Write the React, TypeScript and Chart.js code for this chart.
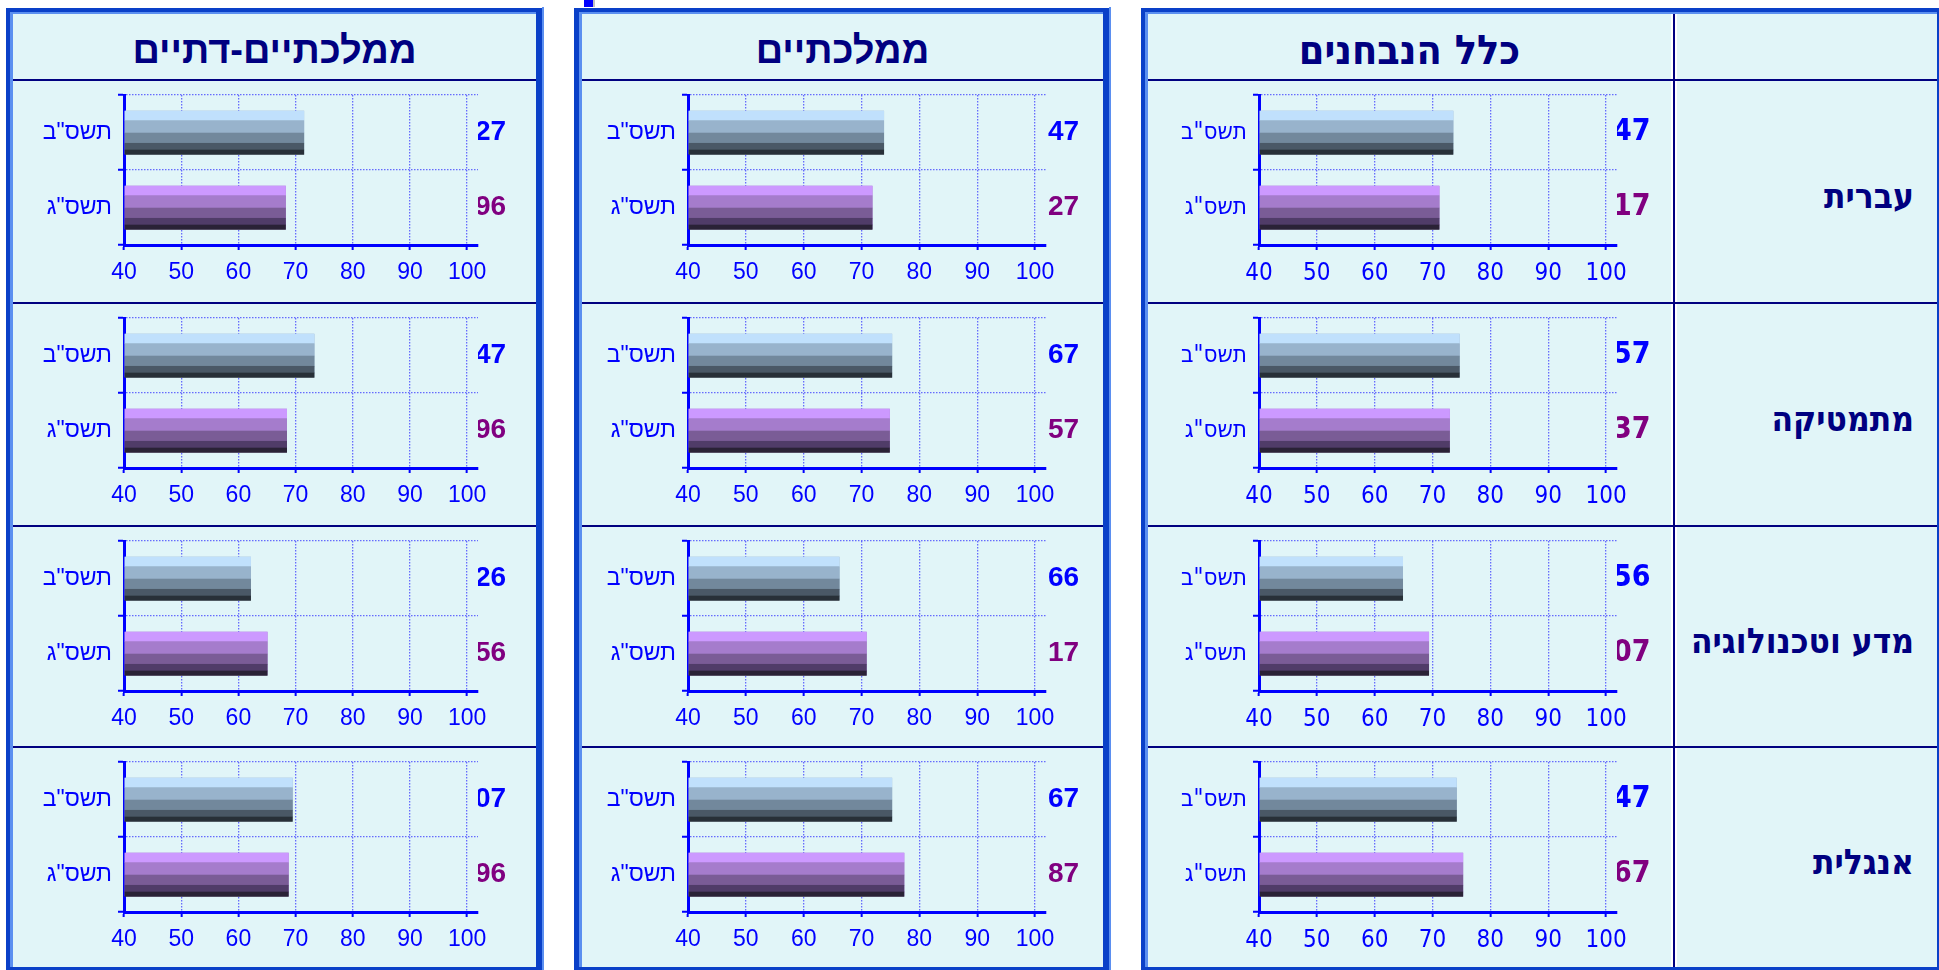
import React, { useEffect, useRef } from 'react';
import { Chart, registerables } from 'chart.js';
Chart.register(...registerables);

// ---------- data ----------
const yearLabels = ['תשס"ב', 'תשס"ג'];
const subjects = ['עברית', 'מתמטיקה', 'מדע וטכנולוגיה', 'אנגלית'];
const groupTitles = ['ממלכתיים-דתיים', 'ממלכתיים', 'כלל הנבחנים'];

// ממלכתיים-דתיים
const religiousPrev = [71.5, 73.3, 62.2, 69.5];
const religiousCurr = [68.3, 68.5, 65.1, 68.8];
const religiousPrevText = ['27', '47', '26', '07'];
const religiousCurrText = ['96', '96', '56', '96'];

// ממלכתיים
const statePrev = [73.9, 75.3, 66.2, 75.3];
const stateCurr = [71.9, 74.9, 70.9, 77.4];
const statePrevText = ['47', '67', '66', '67'];
const stateCurrText = ['27', '57', '17', '87'];

// כלל הנבחנים
const allPrev = [73.6, 74.7, 64.9, 74.2];
const allCurr = [71.2, 73.0, 69.4, 75.3];
const allPrevText = ['47', '57', '56', '47'];
const allCurrText = ['17', '37', '07', '67'];

const xMin = 40;
const xMax = 101.9;
const xStep = 10;

// ---------- styles ----------
const WIDE = "'Liberation Sans', Arial, sans-serif";
const NARROW = "'Liberation Sans Narrow', 'DejaVu Sans Condensed', 'Liberation Sans', sans-serif";
const PREV_BANDS = ['#c0e0fc', '#98b3cc', '#72889c', '#4a5866', '#283038'];
const CURR_BANDS = ['#cc99ff', '#a57ccc', '#7a5c96', '#503c68', '#2a2236'];
const BAND_SHARE = [0.22, 0.285, 0.235, 0.155, 0.105];
const AXIS_BLUE = '#0000ff';
const GRID = 'rgba(60,60,255,0.75)';
const NAVY = '#000080';
const CYAN = '#e1f5f8';
const DARK = '#0a40c8';
const LIGHT = '#5b8ff0';

const stripePlugin = {
  id: 'stripes',
  afterDatasetsDraw(chart: any) {
    const meta = chart.getDatasetMeta(0);
    const ctx = chart.ctx;
    ctx.save();
    meta.data.forEach((el: any, i: number) => {
      const { x, y, base, height } = el.getProps(['x', 'y', 'base', 'height'], true);
      const bands = i === 0 ? PREV_BANDS : CURR_BANDS;
      const left = Math.min(x, base);
      const w = Math.abs(x - base);
      let top = y - height / 2;
      bands.forEach((c, k) => {
        const h = height * BAND_SHARE[k];
        ctx.fillStyle = c;
        ctx.fillRect(left, top, w, h + 0.5);
        top += h;
      });
    });
    ctx.restore();
  },
};

type CellProps = {
  left: number; top: number; width: number; height: number;
  values: number[]; texts: string[];
  axisLeft: number; plotRight: number; narrow: boolean; valuePad: number;
};

function BarCell(p: CellProps) {
  const ref = useRef<HTMLCanvasElement>(null);
  useEffect(() => {
    const family = p.narrow ? NARROW : WIDE;
    const tickSize = p.narrow ? 24 : 23;
    const catSize = p.narrow ? 24 : 23;
    const valSize = p.narrow ? 30 : 28;
    const leftW = p.axisLeft - p.left;
    const rightW = p.left + p.width - p.plotRight;
    const bottomH = p.height - 164;
    const chart = new Chart(ref.current as HTMLCanvasElement, {
      type: 'bar',
      data: {
        labels: yearLabels,
        datasets: [{
          data: p.values,
          yAxisID: 'y',
          xAxisID: 'x',
          base: xMin,
          backgroundColor: ['#98b3cc', '#a57ccc'],
          borderWidth: 0,
          barPercentage: 0.58,
          categoryPercentage: 1,
        }],
      },
      options: {
        indexAxis: 'y',
        animation: false,
        responsive: false,
        events: [],
        layout: { padding: { top: 14, left: 0, right: 0, bottom: 0 } },
        plugins: { legend: { display: false }, tooltip: { enabled: false } },
        scales: {
          x: {
            type: 'linear', min: xMin, max: xMax, position: 'bottom',
            ticks: { stepSize: xStep, includeBounds: false, color: AXIS_BLUE, font: { family, size: tickSize }, padding: 9, maxRotation: 0, autoSkip: false },
            grid: { color: GRID, lineWidth: 1.3, tickColor: AXIS_BLUE, tickWidth: 2, tickLength: 5, tickBorderDash: [1, 0] },
            border: { display: true, color: AXIS_BLUE, width: 3, dash: [1.5, 1.5] },
            afterFit: (s: any) => { s.height = bottomH; s.paddingLeft = 0; s.paddingRight = 0; },
          },
          y: {
            type: 'category', position: 'left', offset: true,
            ticks: { color: AXIS_BLUE, font: { family, size: catSize }, padding: 6 },
            grid: { offset: true, color: GRID, lineWidth: 1.3, tickColor: AXIS_BLUE, tickWidth: 2, tickLength: 6, tickBorderDash: [1, 0] },
            border: { display: true, color: AXIS_BLUE, width: 3, dash: [1.5, 1.5] },
            afterFit: (s: any) => { s.width = leftW; s.paddingTop = 0; s.paddingBottom = 0; },
          },
          y2: {
            type: 'category', position: 'right', offset: true, labels: p.texts,
            ticks: {
              color: (c: any) => (c.index === 0 ? '#0000ff' : '#800080'),
              font: { family, size: valSize, weight: 'bold' }, padding: p.valuePad,
            },
            grid: { display: false, drawTicks: false },
            border: { display: false },
            afterFit: (s: any) => { s.width = rightW; s.paddingTop = 0; s.paddingBottom = 0; },
          },
        },
      } as any,
      plugins: [stripePlugin],
    });
    return () => chart.destroy();
  }, []);
  return (
    <canvas
      ref={ref}
      width={p.width}
      height={p.height}
      style={{ position: 'absolute', left: p.left, top: p.top, width: p.width, height: p.height }}
    />
  );
}

const rowLines = [80, 303, 526, 747];
const panelBottom = 967;

const columns = [
  { x0: 13, x1: 536, axisLeft: 124, plotRight: 478, narrow: false, valuePad: -3, prev: religiousPrev, curr: religiousCurr, prevText: religiousPrevText, currText: religiousCurrText, title: groupTitles[0] },
  { x0: 582, x1: 1103, axisLeft: 688, plotRight: 1046, narrow: false, valuePad: 2, prev: statePrev, curr: stateCurr, prevText: statePrevText, currText: stateCurrText, title: groupTitles[1] },
  { x0: 1148, x1: 1671, axisLeft: 1259, plotRight: 1617, narrow: true, valuePad: -4, prev: allPrev, curr: allCurr, prevText: allPrevText, currText: allCurrText, title: groupTitles[2] },
];

const panels = [
  { darkLeft: 6, darkRight: 542, innerLeft: 13, innerRight: 536 },
  { darkLeft: 574, darkRight: 1109, innerLeft: 582, innerRight: 1103 },
  { darkLeft: 1141, darkRight: 1939, innerLeft: 1148, innerRight: 1937 },
];

const abs = (l: number, t: number, w: number, h: number, bg: string): React.CSSProperties => ({
  position: 'absolute', left: l, top: t, width: w, height: h, background: bg,
});

export default function App() {
  return (
    <div style={{ position: 'fixed', left: 0, top: 0, width: 1939, height: 970, background: '#ffffff', overflow: 'hidden' }}>
      {panels.map((pn, i) => (
        <React.Fragment key={'p' + i}>
          <div style={abs(pn.darkLeft, 8, pn.darkRight - pn.darkLeft, 962, DARK)} />
          <div style={abs(pn.darkRight, 7, 2, 963, LIGHT)} />
          <div style={abs(pn.innerLeft - 3, 12, pn.innerRight - pn.innerLeft + 3, panelBottom - 12, LIGHT)} />
          <div style={abs(pn.innerLeft, 14, pn.innerRight - pn.innerLeft, panelBottom - 14, CYAN)} />
        </React.Fragment>
      ))}
      <div style={abs(584, 0, 9, 7, '#0000ff')} />
      <div style={abs(593, 0, 2, 7, '#c0c0c0')} />
      <div style={abs(1671, 14, 6, panelBottom - 14, '#ffffff')} />
      <div style={abs(1673, 14, 2, panelBottom - 14, NAVY)} />
      {panels.map((pn, i) =>
        rowLines.map((y, r) => (
          <div key={'l' + i + '-' + r} style={abs(pn.innerLeft, y - 1, pn.innerRight - pn.innerLeft, 2, NAVY)} />
        ))
      )}
      {columns.map((c, i) => (
        <div
          key={'t' + i}
          dir="rtl"
          style={{
            position: 'absolute', left: c.x0, top: 30, width: c.x1 - c.x0, height: 40, lineHeight: '40px',
            textAlign: 'center', color: NAVY, fontWeight: 'bold',
            fontFamily: c.narrow ? NARROW : WIDE, fontSize: c.narrow ? 41 : 38, whiteSpace: 'nowrap',
          }}
        >
          {c.title}
        </div>
      ))}
      {subjects.map((s, r) => {
        const top = rowLines[r] + 1;
        const bottom = r < 3 ? rowLines[r + 1] - 1 : panelBottom;
        const mid = (top + bottom) / 2 + 4;
        return (
          <div
            key={'s' + r}
            dir="rtl"
            style={{
              position: 'absolute', left: 1677, top: mid - 20, width: 1937 - 1677 - 23, height: 40, lineHeight: '40px',
              textAlign: 'right', color: NAVY, fontWeight: 'bold', fontFamily: NARROW, fontSize: 35, whiteSpace: 'nowrap',
            }}
          >
            {s}
          </div>
        );
      })}
      {columns.map((c, i) =>
        subjects.map((_, r) => {
          const top = rowLines[r] + 1;
          const bottom = r < 3 ? rowLines[r + 1] - 1 : panelBottom;
          return (
            <BarCell
              key={'c' + i + '-' + r}
              left={c.x0}
              top={top}
              width={c.x1 - c.x0}
              height={bottom - top}
              values={[c.prev[r], c.curr[r]]}
              texts={[c.prevText[r], c.currText[r]]}
              axisLeft={c.axisLeft}
              plotRight={c.plotRight}
              narrow={c.narrow}
              valuePad={c.valuePad}
            />
          );
        })
      )}
    </div>
  );
}
